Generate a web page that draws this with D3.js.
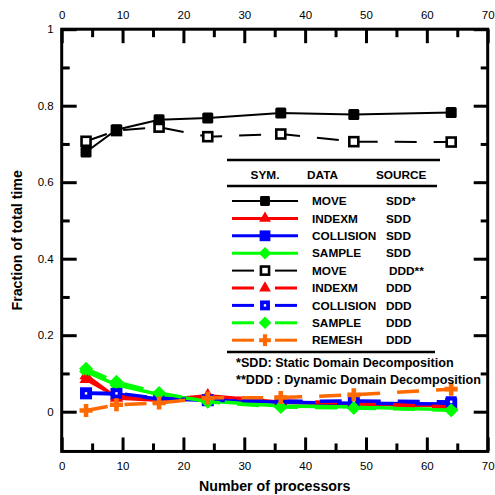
<!DOCTYPE html>
<html>
<head>
<meta charset="utf-8">
<script src="https://cdn.jsdelivr.net/npm/d3@7/dist/d3.min.js"></script>
<style>
  html, body { margin: 0; padding: 0; background: #fff; }
  svg { display: block; font-family: "Liberation Sans", Arial, sans-serif; }
</style>
</head>
<body>
<svg id="chart" width="495" height="495"></svg>
<script>
// Processor counts measured
const procs = [4, 9, 16, 24, 36, 48, 64];

// Fraction of total time per phase, Static Domain Decomposition
const moveSDD      = [0.679, 0.737, 0.763, 0.768, 0.781, 0.777, 0.782];
const indexmSDD    = [0.095, 0.036, 0.030, 0.042, 0.025, 0.020, 0.015];
const collisionSDD = [0.048, 0.046, 0.033, 0.030, 0.025, 0.022, 0.020];
const sampleSDD    = [0.105, 0.070, 0.045, 0.028, 0.015, 0.012, 0.005];

// Fraction of total time per phase, Dynamic Domain Decomposition
const moveDDD      = [0.707, 0.735, 0.744, 0.719, 0.726, 0.706, 0.705];
const indexmDDD    = [0.085, 0.040, 0.032, 0.040, 0.028, 0.022, 0.012];
const collisionDDD = [0.048, 0.048, 0.035, 0.030, 0.027, 0.028, 0.026];
const sampleDDD    = [0.112, 0.078, 0.049, 0.026, 0.012, 0.010, 0.004];
const remeshDDD    = [0.003, 0.018, 0.023, 0.036, 0.037, 0.044, 0.059];

// Axis ticks
const xMajorTicks = [0, 10, 20, 30, 40, 50, 60, 70];
const xMinorTicks = [5, 15, 25, 35, 45, 55, 65];
const yMajorTicks = [0, 0.2, 0.4, 0.6, 0.8, 1];
const yMinorTicks = [0.1, 0.3, 0.5, 0.7, 0.9];

// Legend / series definitions (legend order); z sets drawing order in the plot
const series = [
  { data: "MOVE",      source: "SDD*",  color: "#000000", dashed: false, marker: "squareFilled", values: moveSDD,      z: 9 },
  { data: "INDEXM",    source: "SDD",   color: "#ff0000", dashed: false, marker: "triangle",     values: indexmSDD,    z: 1 },
  { data: "COLLISION", source: "SDD",   color: "#0000ff", dashed: false, marker: "squareBig",    values: collisionSDD, z: 2 },
  { data: "SAMPLE",    source: "SDD",   color: "#00ff00", dashed: false, marker: "diamond",      values: sampleSDD,    z: 3 },
  { data: "MOVE",      source: "DDD**", color: "#000000", dashed: true,  marker: "squareOpen",   values: moveDDD,      z: 8 },
  { data: "INDEXM",    source: "DDD",   color: "#ff0000", dashed: true,  marker: "triangle",     values: indexmDDD,    z: 4 },
  { data: "COLLISION", source: "DDD",   color: "#0000ff", dashed: true,  marker: "squareDot",    values: collisionDDD, z: 5 },
  { data: "SAMPLE",    source: "DDD",   color: "#00ff00", dashed: true,  marker: "diamond",      values: sampleDDD,    z: 6 },
  { data: "REMESH",    source: "DDD",   color: "#ff6a00", dashed: true,  marker: "cross",        values: remeshDDD,    z: 7 }
];

const footnotes = [
  "*SDD: Static Domain Decomposition",
  "**DDD : Dynamic Domain Decomposition"
];

const svg = d3.select("#chart");
const plotLeft = 61.7, plotRight = 487.7, plotTop = 29.2;

const x = d3.scaleLinear().domain([0, 70]).range([plotLeft, plotRight]);
const y = d3.scaleLinear().domain([0, 1]).range([411.7, plotTop]);
const plotBottom = y(-0.1) + 1.5;

// ---- axes ----
function styleAxis(g) {
  g.select(".domain").remove();
  g.selectAll(".tick line").attr("stroke", "#000").attr("stroke-width", 3);
  g.selectAll(".tick text").attr("fill", "#000").attr("font-size", 11.5)
    .attr("font-family", "'Liberation Sans', Arial, sans-serif");
}

svg.append("g").attr("transform", `translate(0,${plotBottom})`)
  .call(d3.axisBottom(x).tickValues(xMajorTicks).tickSize(-14).tickSizeOuter(0).tickPadding(10).tickFormat(d3.format("d")))
  .call(styleAxis);
svg.append("g").attr("transform", `translate(0,${plotBottom})`)
  .call(d3.axisBottom(x).tickValues(xMinorTicks).tickSize(-8).tickSizeOuter(0).tickFormat(""))
  .call(styleAxis);
svg.append("g").attr("transform", `translate(0,${plotTop})`)
  .call(d3.axisTop(x).tickValues(xMajorTicks).tickSize(-14).tickSizeOuter(0).tickPadding(10).tickFormat(d3.format("d")))
  .call(styleAxis);
svg.append("g").attr("transform", `translate(0,${plotTop})`)
  .call(d3.axisTop(x).tickValues(xMinorTicks).tickSize(-8).tickSizeOuter(0).tickFormat(""))
  .call(styleAxis);
svg.append("g").attr("transform", `translate(${plotLeft},0)`)
  .call(d3.axisLeft(y).tickValues(yMajorTicks).tickSize(-15).tickSizeOuter(0).tickPadding(8).tickFormat(d => String(d)))
  .call(styleAxis);
svg.append("g").attr("transform", `translate(${plotLeft},0)`)
  .call(d3.axisLeft(y).tickValues(yMinorTicks).tickSize(-8).tickSizeOuter(0).tickFormat(""))
  .call(styleAxis);
svg.append("g").attr("transform", `translate(${plotRight},0)`)
  .call(d3.axisRight(y).tickValues(yMajorTicks).tickSize(-14).tickSizeOuter(0).tickFormat(""))
  .call(styleAxis);
svg.append("g").attr("transform", `translate(${plotRight},0)`)
  .call(d3.axisRight(y).tickValues(yMinorTicks).tickSize(-7).tickSizeOuter(0).tickFormat(""))
  .call(styleAxis);

// frame
svg.append("rect")
  .attr("x", plotLeft).attr("y", plotTop)
  .attr("width", plotRight - plotLeft).attr("height", plotBottom - plotTop)
  .attr("fill", "none").attr("stroke", "#000").attr("stroke-width", 3);

// axis titles
svg.append("text")
  .attr("x", (plotLeft + plotRight) / 2).attr("y", 491)
  .attr("text-anchor", "middle").attr("font-weight", "bold").attr("font-size", 14.2)
  .text("Number of processors");
svg.append("text")
  .attr("transform", `translate(22,${(plotTop + plotBottom) / 2}) rotate(-90)`)
  .attr("text-anchor", "middle").attr("font-weight", "bold").attr("font-size", 14.2)
  .text("Fraction of total time");

// ---- markers ----
function drawMarker(g, type, color, cx, cy, scale) {
  const s = scale || 1;
  if (type === "squareFilled") {
    const h = 5.5 * s;
    g.append("rect").attr("x", cx - h).attr("y", cy - h).attr("width", 2 * h).attr("height", 2 * h)
      .attr("rx", 1.5 * s).attr("fill", color);
  } else if (type === "squareOpen") {
    const h = 4.5 * s;
    g.append("rect").attr("x", cx - h).attr("y", cy - h).attr("width", 2 * h).attr("height", 2 * h)
      .attr("fill", "#fff").attr("stroke", color).attr("stroke-width", 2.6);
  } else if (type === "squareBig") {
    const h = 6 * s;
    g.append("rect").attr("x", cx - h).attr("y", cy - h).attr("width", 2 * h).attr("height", 2 * h).attr("fill", color);
  } else if (type === "squareDot") {
    const h = 5.5 * s;
    g.append("rect").attr("x", cx - h).attr("y", cy - h).attr("width", 2 * h).attr("height", 2 * h).attr("fill", color);
    g.append("rect").attr("x", cx - 1.2).attr("y", cy - 1.2).attr("width", 2.4).attr("height", 2.4).attr("fill", "#fff");
  } else if (type === "triangle") {
    g.append("path").attr("d", d3.symbol(d3.symbolTriangle, 75 * s * s)())
      .attr("transform", `translate(${cx},${cy})`).attr("fill", color);
  } else if (type === "diamond") {
    const h = 7 * s;
    g.append("path").attr("d", `M${cx},${cy - h}L${cx + h},${cy}L${cx},${cy + h}L${cx - h},${cy}Z`).attr("fill", color);
  } else if (type === "cross") {
    const a = 6.5 * s, w = 2.3 * s;
    g.append("path")
      .attr("d", `M${cx - w},${cy - a}H${cx + w}V${cy - w}H${cx + a}V${cy + w}H${cx + w}V${cy + a}H${cx - w}V${cy + w}H${cx - a}V${cy - w}H${cx - w}Z`)
      .attr("fill", color);
  }
}

// ---- series ----
const line = d3.line().x(d => x(d[0])).y(d => y(d[1]));
const plot = svg.append("g");
series.slice().sort((a, b) => a.z - b.z).forEach(s => {
  const pts = procs.map((p, i) => [p, s.values[i]]);
  const isBlack = s.color === "#000000";
  plot.append("path").datum(pts)
    .attr("d", line)
    .attr("fill", "none")
    .attr("stroke", s.color)
    .attr("stroke-width", isBlack ? 2 : 3.5)
    .attr("stroke-dasharray", s.dashed ? "22,17" : null);
  const mg = plot.append("g");
  pts.forEach(p => drawMarker(mg, s.marker, s.color, x(p[0]), y(p[1]), 1));
});

// ---- legend ----
const lg = svg.append("g");
lg.append("line").attr("x1", 227).attr("x2", 440).attr("y1", 160).attr("y2", 160)
  .attr("stroke", "#000").attr("stroke-width", 2.5);
lg.append("line").attr("x1", 227).attr("x2", 437).attr("y1", 186).attr("y2", 186)
  .attr("stroke", "#000").attr("stroke-width", 2.5);
lg.append("line").attr("x1", 227).attr("x2", 435).attr("y1", 352).attr("y2", 352)
  .attr("stroke", "#000").attr("stroke-width", 2.5);

const header = [["SYM.", 265, "middle"], ["DATA", 307, "start"], ["SOURCE", 376, "start"]];
header.forEach(h => {
  lg.append("text").attr("x", h[1]).attr("y", 179).attr("text-anchor", h[2])
    .attr("font-weight", "bold").attr("font-size", 11.8).text(h[0]);
});

series.forEach((s, i) => {
  const cy = 201 + i * 17.4;
  const isBlack = s.color === "#000000";
  const sw = isBlack ? 2 : 3;
  if (s.dashed) {
    lg.append("line").attr("x1", 232).attr("x2", 254).attr("y1", cy).attr("y2", cy).attr("stroke", s.color).attr("stroke-width", sw);
    lg.append("line").attr("x1", 275).attr("x2", 297).attr("y1", cy).attr("y2", cy).attr("stroke", s.color).attr("stroke-width", sw);
  } else {
    lg.append("line").attr("x1", 232).attr("x2", 298).attr("y1", cy).attr("y2", cy).attr("stroke", s.color).attr("stroke-width", sw);
  }
  drawMarker(lg, s.marker, s.color, 265, cy, 0.9);
  lg.append("text").attr("x", 312).attr("y", cy + 4.2).attr("font-weight", "bold").attr("font-size", 11.8).text(s.data);
  lg.append("text").attr("x", s.source === "DDD**" ? 389 : 386).attr("y", cy + 4.2).attr("font-weight", "bold").attr("font-size", 11.8).text(s.source);
});

footnotes.forEach((t, i) => {
  lg.append("text").attr("x", 236).attr("y", 367 + i * 17).attr("font-weight", "bold").attr("font-size", 12.6).text(t);
});
</script>
</body>
</html>
